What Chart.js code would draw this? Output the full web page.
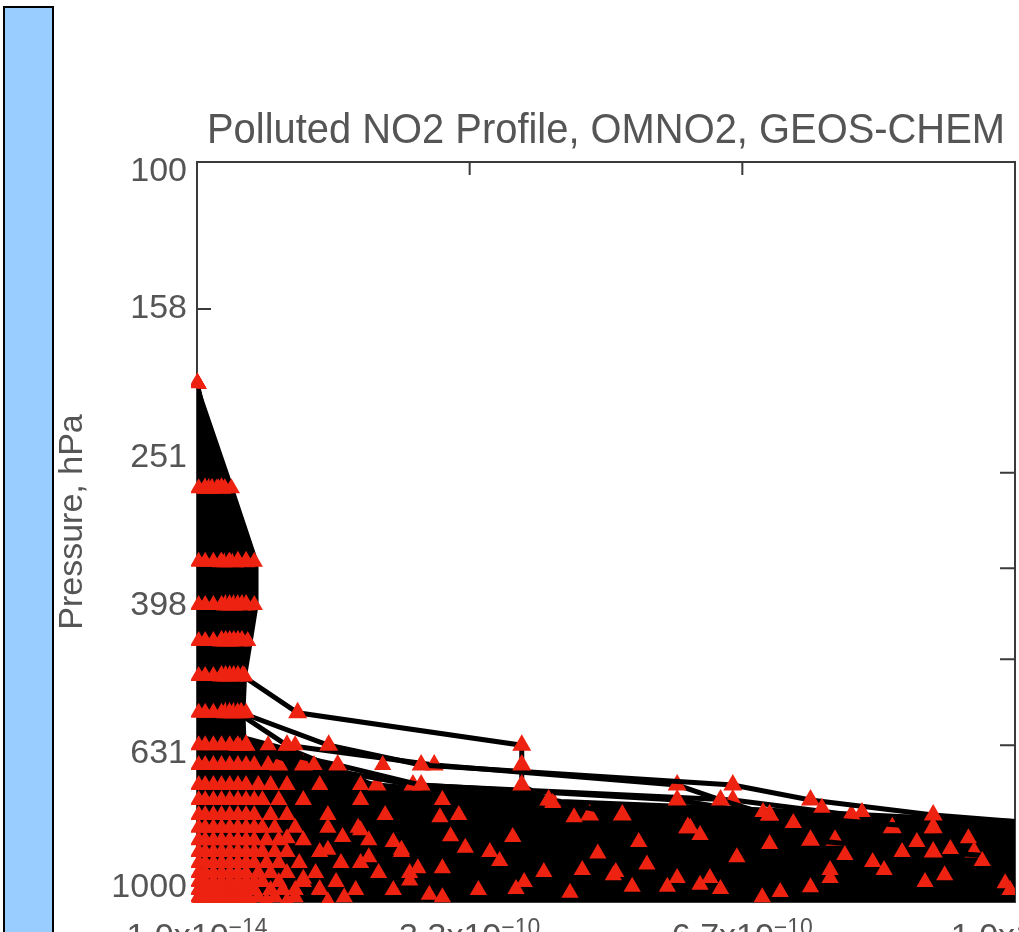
<!DOCTYPE html>
<html>
<head>
<meta charset="utf-8">
<script src="https://cdn.jsdelivr.net/npm/chart.js@4.4.1/dist/chart.umd.min.js"></script>
<style>
  html, body { margin: 0; padding: 0; background: #fff; overflow: hidden; width: 1019px; height: 932px; }
  #sidebar { position: absolute; left: 3px; top: 6px; width: 47px; height: 1000px; background: #99ccff; border: 2px solid #000; }
  #wrap { position: absolute; left: 0; top: 0; width: 1100px; height: 1000px; }
</style>
</head>
<body>
<div id="sidebar"></div>
<div id="wrap"><canvas id="profileChart" width="1100" height="1000" style="width:1100px;height:1000px"></canvas></div>
<script>
const TITLE = "Polluted NO2 Profile, OMNO2, GEOS-CHEM";
const Y_TITLE = "Pressure, hPa";

// NO2 mixing ratio in units of 1e-10 v/v, pressure in hPa
const xTickValues = [0, 3.3333, 6.6667, 10];
const xTickMantissas = ["1.0x10", "3.3x10", "6.7x10", "1.0x10"];
const xTickExponents = ["\u221214", "\u221210", "\u221210", "\u22129"];
const yTickValues = [100, 158, 251, 398, 631, 1000];
const rightTickValues = [263, 354, 470, 614];

// model levels where the profiles are sampled
const levels = [199, 276, 347, 397, 444, 495, 555, 614, 653, 695, 728, 763, 794, 825, 856, 886, 914, 940, 963, 985, 998];

// outer edge of the dense bundle of profiles
const envelopeNO2 = [0, 0.44, 0.74, 0.74, 0.67, 0.6, 0.58, 0.59, 1.2, 1.89, 2.22, 3.07, 4.0, 4.45, 6.55, 8.59, 10.02, 12, 12, 0];
const envelopePres = [199, 276, 347, 397, 444, 495, 555, 598, 623, 669, 699, 706, 713, 728, 744, 763, 775, 800, 1000, 1000];

// profiles that stick out of the bundle
const profileA = [0, 0.3, 0.6, 0.6, 0.55, 0.56, 1.23, 3.97, 3.97, 3.97, 4.3, 5.2, 6.0, 7.5, 9.0, 11, 12, 12, 12, 12, 12];
const profileB = [0, 0.25, 0.5, 0.55, 0.5, 0.5, 0.54, 1.61, 2.74, 6.55, 7.5, 9.0, 11, 12, 12, 12, 12, 12, 12, 12, 12];
const profileC = [0, 0.2, 0.45, 0.5, 0.45, 0.45, 0.5, 1.1, 2.9, 5.87, 6.4, 7.0, 9.0, 11, 12, 12, 12, 12, 12, 12, 12];
const profileD = [0, 0.15, 0.4, 0.45, 0.4, 0.4, 0.45, 0.6, 1.72, 2.74, 5.87, 7.0, 8.5, 10.5, 12, 12, 12, 12, 12, 12, 12];
const profileE = [0, 0.1, 0.35, 0.4, 0.35, 0.35, 0.4, 0.55, 1.3, 2.64, 6.55, 8.0, 9.0, 11, 12, 12, 12, 12, 12, 12, 12];
const profileF = [0, 0.1, 0.3, 0.35, 0.3, 0.3, 0.35, 0.5, 1.0, 2.2, 4.34, 4.8, 6.0, 7.8, 9.5, 12, 12, 12, 12, 12, 12];

// sample values at each level (one list per level)
const bandNO2 = [
  [0],
  [0.02, 0.1, 0.18, 0.26, 0.34, 0.42],
  [0.02, 0.1, 0.2, 0.3, 0.4, 0.5, 0.6, 0.7],
  [0.02, 0.1, 0.2, 0.3, 0.4, 0.5, 0.6, 0.7],
  [0.02, 0.1, 0.2, 0.3, 0.4, 0.5, 0.62],
  [0.02, 0.1, 0.2, 0.3, 0.4, 0.5, 0.58],
  [0.02, 0.1, 0.2, 0.3, 0.4, 0.5, 0.6],
  [0.02, 0.1, 0.2, 0.3, 0.4, 0.5, 0.6, 0.87, 1.1, 1.2],
  [0.02, 0.1, 0.2, 0.3, 0.4, 0.5, 0.6, 0.7, 0.87, 1.43, 2.27],
  [0.02, 0.1, 0.2, 0.3, 0.4, 0.5, 0.6, 0.75, 0.9, 1.1, 1.5, 2.0],
  [0.02, 0.1, 0.2, 0.3, 0.4, 0.5, 0.6, 0.7, 0.8, 1.0, 1.3, 2.0, 3.0],
  [0.02, 0.1, 0.2, 0.3, 0.4, 0.5, 0.6, 0.7, 0.9, 1.1, 1.6, 2.3, 3.2],
  [0.02, 0.1, 0.2, 0.3, 0.4, 0.5, 0.6, 0.7, 0.8, 0.95, 1.2, 1.6],
  [0.02, 0.1, 0.2, 0.3, 0.4, 0.5, 0.6, 0.7, 0.85, 1.0, 1.3, 2.1],
  [0.02, 0.1, 0.2, 0.3, 0.4, 0.5, 0.6, 0.7, 0.8, 0.95, 1.1, 1.5, 2.5],
  [0.02, 0.1, 0.2, 0.3, 0.4, 0.5, 0.6, 0.7, 0.85, 1.0, 1.25, 2.0],
  [0.02, 0.1, 0.2, 0.3, 0.4, 0.5, 0.6, 0.75, 0.9, 1.1, 1.45, 2.6],
  [0.02, 0.1, 0.2, 0.3, 0.4, 0.5, 0.6, 0.7, 0.8, 1.0, 1.3, 1.7],
  [0.02, 0.1, 0.2, 0.3, 0.4, 0.5, 0.6, 0.7, 0.9, 1.05, 1.5, 2.4],
  [0.02, 0.1, 0.2, 0.3, 0.4, 0.5, 0.6, 0.75, 0.95, 1.2, 1.8, 3.0],
  [0.02, 0.1, 0.2, 0.3, 0.4, 0.5, 0.65, 0.85, 1.1, 1.6],
];

// scattered high values inside the bundle
const scatterNO2 = [1.20, 1.76, 1.78, 1.97, 1.94, 2.22, 2.84, 2.97, 3.28, 3.44, 3.58, 3.86, 4.24, 4.35, 4.56, 4.61, 4.71, 5.09, 5.12, 5.32, 5.75, 5.87, 6.03, 6.15, 6.15, 6.27, 6.92, 6.91, 7.13, 7.29, 7.64, 7.74, 7.74, 7.92, 8.13, 8.26, 8.62, 8.90, 9.14, 9.21, 9.43, 9.88, 9.94, 2.5, 2.6, 1.3, 3.0, 2.1,
  2.0, 2.4, 3.1, 3.7, 4.0, 4.9, 5.5, 6.6, 7.0, 8.4, 9.6, 1.5, 2.7, 3.9, 5.4, 6.4, 7.5, 8.8, 1.1, 1.6];
const scatterPres = [963, 886, 817, 794, 963, 914, 978, 768, 845, 963, 856, 817, 911, 735, 972, 768, 905, 920, 911, 954, 954, 928, 794, 812, 948, 928, 756, 985, 969, 782, 746, 905, 928, 864, 756, 883, 856, 940, 920, 848, 820, 943, 963, 850, 935, 930, 900, 870,
  800, 830, 815, 880, 940, 860, 890, 870, 835, 905, 880, 960, 900, 960, 830, 960, 955, 830, 820, 850];

const RED = "#ee2211";
const TEXT = "#555555";
const FONT = '"Liberation Sans", Arial, sans-serif';

const toPoints = (xs, ys) => xs.map((v, i) => ({ x: v, y: ys[i] }));

const samplePoints = [];
levels.forEach((p, i) => bandNO2[i].forEach((v) => samplePoints.push({ x: v, y: p })));
samplePoints.push(...toPoints(scatterNO2, scatterPres));

const outliers = [profileA, profileB, profileC, profileD, profileE, profileF];

const datasets = [
  {
    label: "samples",
    data: samplePoints,
    showLine: false,
    pointStyle: "triangle",
    pointRadius: 10,
    pointBackgroundColor: RED,
    pointBorderColor: RED,
    pointBorderWidth: 0,
    order: 0,
    clip: { left: 6, top: 6, right: 0, bottom: 1 },
  },
  ...outliers.map((prof, k) => ({
    label: "profile " + (k + 1),
    data: toPoints(prof, levels),
    showLine: true,
    borderColor: "#000",
    borderWidth: 5,
    pointStyle: "triangle",
    pointRadius: 11,
    pointBackgroundColor: RED,
    pointBorderColor: RED,
    pointBorderWidth: 0,
    order: 1,
  })),
  {
    label: "bundle",
    data: toPoints(envelopeNO2, envelopePres),
    showLine: true,
    fill: "shape",
    backgroundColor: "#000",
    borderColor: "#000",
    borderWidth: 2,
    pointRadius: 0,
    order: 2,
  },
];

const frameAndLabels = {
  id: "frameAndLabels",
  beforeDatasetsDraw(chart) {
    const { ctx, chartArea: a, scales } = chart;
    ctx.save();
    ctx.strokeStyle = "#3a3a3a";
    ctx.lineWidth = 2;
    ctx.strokeRect(a.left, a.top, a.right - a.left, a.bottom - a.top);
    ctx.beginPath();
    yTickValues.forEach((v) => {
      const y = scales.y.getPixelForValue(v);
      ctx.moveTo(a.left, y);
      ctx.lineTo(a.left + 14, y);
    });
    rightTickValues.forEach((v) => {
      const y = scales.y.getPixelForValue(v);
      ctx.moveTo(a.right, y);
      ctx.lineTo(a.right - 15, y);
    });
    xTickValues.forEach((v) => {
      const x = scales.x.getPixelForValue(v);
      ctx.moveTo(x, a.top);
      ctx.lineTo(x, a.top + 13);
      ctx.moveTo(x, a.bottom);
      ctx.lineTo(x, a.bottom - 13);
    });
    ctx.stroke();
    ctx.restore();
  },
  afterDraw(chart) {
    const { ctx, chartArea: a, scales } = chart;
    ctx.save();
    ctx.fillStyle = TEXT;

    // title
    ctx.font = "43px " + FONT;
    ctx.textAlign = "center";
    ctx.textBaseline = "alphabetic";
    ctx.fillText(TITLE, (a.left + a.right) / 2, a.top - 19, 798);

    // pressure tick labels, kept inside the axis span
    ctx.font = "34px " + FONT;
    ctx.textAlign = "right";
    ctx.textBaseline = "middle";
    yTickValues.forEach((v) => {
      let y = scales.y.getPixelForValue(v);
      y = Math.min(Math.max(y, a.top + 10), a.bottom - 14);
      ctx.fillText(String(v), a.left - 10, y);
    });

    // pressure axis title
    ctx.save();
    ctx.translate(a.left - 124, (a.top + a.bottom) / 2 - 10);
    ctx.rotate(-Math.PI / 2);
    ctx.textAlign = "center";
    ctx.font = "34px " + FONT;
    ctx.fillText(Y_TITLE, 0, 0, 235);
    ctx.restore();

    // mixing ratio tick labels with raised exponent
    xTickValues.forEach((v, i) => {
      const x = scales.x.getPixelForValue(v);
      ctx.font = "34px " + FONT;
      const w1 = ctx.measureText(xTickMantissas[i]).width;
      ctx.font = "23px " + FONT;
      const w2 = ctx.measureText(xTickExponents[i]).width;
      const x0 = x - (w1 + w2) / 2;
      const base = a.bottom + 45;
      ctx.textAlign = "left";
      ctx.textBaseline = "alphabetic";
      ctx.font = "34px " + FONT;
      ctx.fillText(xTickMantissas[i], x0, base);
      ctx.font = "23px " + FONT;
      ctx.fillText(xTickExponents[i], x0 + w1, base - 12);
    });
    ctx.restore();
  },
};

new Chart(document.getElementById("profileChart"), {
  type: "scatter",
  data: { datasets },
  options: {
    responsive: false,
    animation: false,
    events: [],
    layout: { autoPadding: false, padding: { left: 0, right: 85, top: 162, bottom: 58 } },
    plugins: { legend: { display: false }, tooltip: { enabled: false } },
    scales: {
      x: {
        type: "linear",
        min: 0,
        max: 10,
        grid: { display: false },
        border: { display: false },
        ticks: { display: false },
        afterFit: (s) => { s.height = 40; },
      },
      y: {
        type: "logarithmic",
        min: 100,
        max: 1000,
        reverse: true,
        grid: { display: false },
        border: { display: false },
        ticks: { display: false },
        afterFit: (s) => { s.width = 197; },
      },
    },
  },
  plugins: [frameAndLabels],
});
</script>
</body>
</html>
